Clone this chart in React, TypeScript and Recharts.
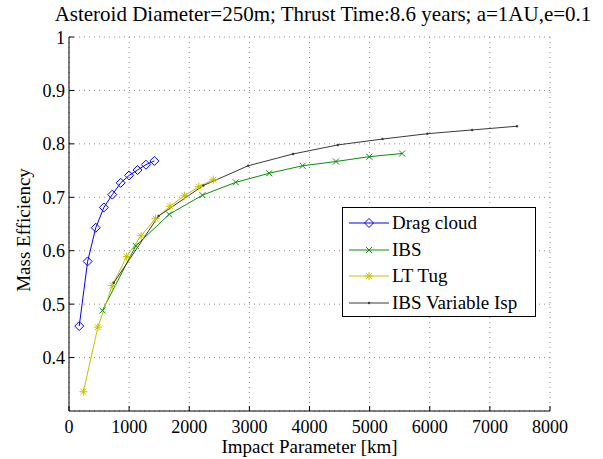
import { LineChart, Line, XAxis, YAxis, CartesianGrid, Legend } from 'recharts';

const FONT = "'Liberation Serif', 'DejaVu Serif', 'Times New Roman', Times, serif";

// Impact parameter [km] and mass efficiency
const dragX = [170, 310, 445, 580, 720, 860, 1000, 1140, 1280, 1420];
const dragY = [0.459, 0.58, 0.643, 0.681, 0.705, 0.727, 0.741, 0.751, 0.761, 0.768];

const ibsX = [555, 1110, 1665, 2220, 2775, 3330, 3885, 4440, 4995, 5540];
const ibsY = [0.488, 0.609, 0.668, 0.704, 0.728, 0.745, 0.759, 0.767, 0.776, 0.782];

const tugX = [240, 480, 720, 960, 1200, 1440, 1680, 1920, 2160, 2400];
const tugY = [0.336, 0.457, 0.535, 0.589, 0.628, 0.66, 0.683, 0.703, 0.72, 0.733];

const varX = [745, 1490, 2235, 2980, 3725, 4470, 5215, 5960, 6705, 7450];
const varY = [0.54, 0.665, 0.722, 0.759, 0.781, 0.798, 0.809, 0.819, 0.826, 0.833];

const xTicks = [0, 1000, 2000, 3000, 4000, 5000, 6000, 7000, 8000];
const yTicks = [0.4, 0.5, 0.6, 0.7, 0.8, 0.9, 1];

const toPoints = (xs: number[], ys: number[]) => xs.map((x, i) => ({ x, y: ys[i] }));

const series = [
  { name: 'Drag cloud', color: '#0000ff', marker: 'diamond', data: toPoints(dragX, dragY) },
  { name: 'IBS', color: '#0a8f0a', marker: 'cross', data: toPoints(ibsX, ibsY) },
  { name: 'LT Tug', color: '#c4c400', marker: 'star', data: toPoints(tugX, tugY) },
  { name: 'IBS Variable Isp', color: '#3a3a3a', marker: 'dot', data: toPoints(varX, varY) },
];

function Marker({ type, cx, cy, color }: { type: string; cx: number; cy: number; color: string }) {
  if (type === 'diamond') {
    const r = 4.5;
    return (
      <path
        d={`M${cx},${cy - r}L${cx + r},${cy}L${cx},${cy + r}L${cx - r},${cy}Z`}
        fill="none"
        stroke={color}
        strokeWidth={1}
      />
    );
  }
  if (type === 'cross') {
    const r = 3;
    return (
      <path
        d={`M${cx - r},${cy - r}L${cx + r},${cy + r}M${cx - r},${cy + r}L${cx + r},${cy - r}`}
        stroke={color}
        strokeWidth={1}
      />
    );
  }
  if (type === 'star') {
    const r = 4;
    const d = 2.9;
    return (
      <path
        d={`M${cx - r},${cy}L${cx + r},${cy}M${cx},${cy - r}L${cx},${cy + r}M${cx - d},${cy - d}L${cx + d},${cy + d}M${cx - d},${cy + d}L${cx + d},${cy - d}`}
        stroke={color}
        strokeWidth={1}
      />
    );
  }
  return <circle cx={cx} cy={cy} r={1.2} fill={color} />;
}

const XTick = ({ x, y, payload }: any) => (
  <g>
    <line x1={x} y1={y} x2={x} y2={y - 5} stroke="#000" />
    <text x={x} y={y + 22} textAnchor="middle" style={{ fontFamily: FONT }} fontSize={18} fill="#000">
      {payload.value}
    </text>
  </g>
);

const YTick = ({ x, y, payload }: any) => (
  <g>
    <line x1={x} y1={y} x2={x + 5} y2={y} stroke="#000" />
    <text x={x - 4} y={y + 6.5} textAnchor="end" style={{ fontFamily: FONT }} fontSize={18} fill="#000">
      {payload.value}
    </text>
  </g>
);

const TopTick = ({ x, y }: any) => <line x1={x} y1={y} x2={x} y2={y + 5} stroke="#000" />;
const RightTick = ({ x, y }: any) => <line x1={x} y1={y} x2={x - 5} y2={y} stroke="#000" />;

const YLabel = ({ viewBox }: any) => {
  const cx = 23;
  const cy = viewBox.y + viewBox.height / 2 + 6;
  return (
    <text
      x={cx}
      y={cy}
      transform={`rotate(-90 ${cx} ${cy})`}
      textAnchor="middle"
      dominantBaseline="central"
      style={{ fontFamily: FONT }}
      fontSize={19}
      fill="#000"
    >
      Mass Efficiency
    </text>
  );
};

const XLabel = ({ viewBox }: any) => (
  <text
    x={viewBox.x + viewBox.width / 2}
    y={453}
    textAnchor="middle"
    style={{ fontFamily: FONT }}
    fontSize={19}
    fill="#000"
  >
    Impact Parameter [km]
  </text>
);

const LegendBox = () => (
  <div
    style={{
      border: '1.5px solid #000',
      background: '#fff',
      width: 192,
      padding: '2px 0 0 0',
      fontFamily: FONT,
      fontSize: 19,
      color: '#000',
    }}
  >
    {series.map((s) => (
      <div key={s.name} style={{ display: 'flex', alignItems: 'center', height: 26.5 }}>
        <svg width={49} height={14} style={{ flex: 'none' }}>
          <line x1={6} y1={7} x2={46} y2={7} stroke={s.color} strokeWidth={1} />
          <Marker type={s.marker} cx={26} cy={7} color={s.color} />
        </svg>
        <span style={{ lineHeight: '20px' }}>{s.name}</span>
      </div>
    ))}
  </div>
);

export default function App() {
  return (
    <div style={{ position: 'absolute', left: 0, top: 0, width: 603, height: 459, background: '#fff' }}>
      <div
        style={{
          position: 'absolute',
          left: 0,
          top: 2,
          width: 603,
          paddingLeft: 43,
          boxSizing: 'border-box',
          textAlign: 'center',
          fontFamily: FONT,
          fontSize: 21,
          lineHeight: '24px',
          color: '#000',
          whiteSpace: 'nowrap',
        }}
      >
        Asteroid Diameter=250m; Thrust Time:8.6 years; a=1AU,e=0.1
      </div>
      <LineChart width={603} height={459} margin={{ top: 37, right: 53, left: 0, bottom: 0 }}>
        <CartesianGrid stroke="#8a8a8a" strokeDasharray="1 4" />
        <XAxis
          type="number"
          dataKey="x"
          domain={[0, 8000]}
          ticks={xTicks}
          allowDataOverflow
          height={48}
          tickSize={0}
          tickMargin={0}
          tickLine={false}
          axisLine={{ stroke: '#000' }}
          tick={<XTick />}
          interval={0}
          label={<XLabel />}
        />
        <XAxis
          xAxisId="top"
          orientation="top"
          type="number"
          dataKey="x"
          domain={[0, 8000]}
          ticks={xTicks}
          height={0}
          tickSize={0}
          tickMargin={0}
          tickLine={false}
          axisLine={{ stroke: '#000' }}
          tick={<TopTick />}
          interval={0}
        />
        <YAxis
          type="number"
          dataKey="y"
          domain={[0.3, 1]}
          ticks={yTicks}
          allowDataOverflow
          width={69}
          tickSize={0}
          tickMargin={0}
          tickLine={false}
          axisLine={{ stroke: '#000' }}
          tick={<YTick />}
          interval={0}
          label={<YLabel />}
        />
        <YAxis
          yAxisId="right"
          orientation="right"
          type="number"
          dataKey="y"
          domain={[0.3, 1]}
          ticks={yTicks}
          width={0}
          tickSize={0}
          tickMargin={0}
          tickLine={false}
          axisLine={{ stroke: '#000' }}
          tick={<RightTick />}
          interval={0}
        />
        {series.map((s) => (
          <Line
            key={s.name}
            data={s.data}
            dataKey="y"
            name={s.name}
            type="linear"
            stroke={s.color}
            strokeWidth={1}
            isAnimationActive={false}
            dot={(p: any) => <Marker key={`${s.name}-${p.index}`} type={s.marker} cx={p.cx} cy={p.cy} color={s.color} />}
            activeDot={false}
          />
        ))}
        <Legend
          layout="vertical"
          align="center"
          verticalAlign="middle"
          content={<LegendBox />}
          wrapperStyle={{ left: 342, top: 207, width: 'auto' }}
        />
      </LineChart>
    </div>
  );
}
